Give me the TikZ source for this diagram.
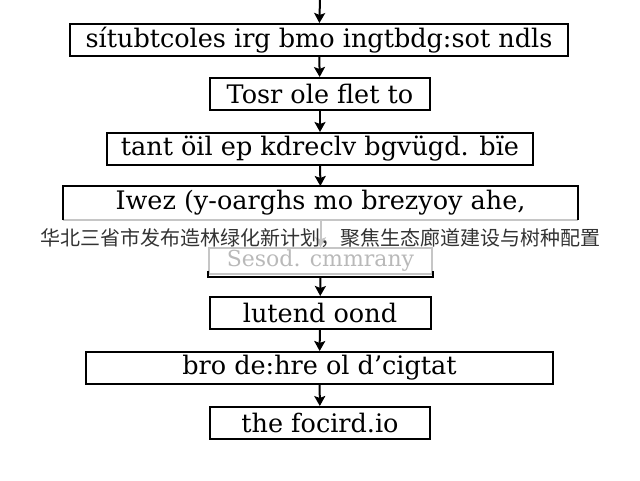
\documentclass[tikz,border=0pt]{standalone}
\usepackage{fontspec}
\setmainfont{DejaVu Serif}
\newfontfamily\cjk{Noto Sans CJK SC}
\usetikzlibrary{arrows.meta, positioning, calc}
\tikzset{%
	stage/.style={draw, rectangle, line width=2pt, minimum height=32pt, inner sep=0pt,%
		font=\fontsize{25.5}{27}\selectfont},
	faded/.style={draw=gray!45, text=gray!55, font=\fontsize{22}{24}\selectfont},
	flow/.style={-{Stealth[length=10pt, width=11pt, inset=2pt]}, line width=2pt},
	banner/.style={text=black!80, font=\cjk\fontsize{20}{22}\selectfont, inner sep=0pt}
}
\begin{document}
\begin{tikzpicture}[x=1pt, y=-1pt]
	\useasboundingbox (0,0) rectangle (640,480);

	\coordinate (top) at (320,-2);
	\node[stage, minimum width=498pt] (scan)   at (319,40)    {sítubtcoles irg bmo ingtbdg:sot ndls};
	\node[stage, minimum width=220pt] (tosr)   at (320,94)    {Tosr ole flet to};
	\node[stage, minimum width=426pt] (tant)   at (320,149)   {tant öil ep kdreclv bgvügd. bïe};
	\node[stage, draw=none, minimum width=513pt] (iwez) at (320.5,203) {Iwez (y-oarghs mo brezyoy ahe,};
	\node[stage, faded, line width=1.4pt, minimum width=223pt, minimum height=26pt]%
		(sesod) at (320.5,261) {Sesod. cmmrany};
	\node[stage, minimum width=221pt] (lutend) at (320,313)   {lutend oond};
	\node[stage, minimum width=467pt] (bro)    at (319.5,368) {bro de:hre ol d'cigtat};
	\node[stage, minimum width=220pt] (focird) at (320,423)   {the focird.io};

	% box with faded bottom edge
	\draw[line width=1.4pt, gray!45] (iwez.south west) -- (iwez.south east);
	\draw[line width=2pt] (iwez.south west) -- (iwez.north west) -- (iwez.north east) -- (iwez.south east);

	% bracket under the faded box
	\coordinate (bl) at ($(sesod.south west)+(0,2)$);
	\coordinate (br) at ($(sesod.south east)+(0,2)$);
	\coordinate (bm) at ($(bl)!0.5!(br)$);
	\draw[line width=2pt] ($(bl)+(0,-6)$) -- (bl) -- (br) -- ($(br)+(0,-6)$);

	\draw[flow]          (top)    to (scan);
	\draw[flow]          (scan)   to (tosr);
	\draw[flow]          (tosr)   to (tant);
	\draw[flow]          (tant)   to (iwez);
	\draw[flow, gray!45] (iwez)   to (sesod);
	\draw[flow]          (bm)     to (lutend);
	\draw[flow]          (lutend) to (bro);
	\draw[flow]          (bro)    to (focird);

	\node[banner] (title) at (320,238) {华北三省市发布造林绿化新计划，聚焦生态廊道建设与树种配置};
\end{tikzpicture}
\end{document}
